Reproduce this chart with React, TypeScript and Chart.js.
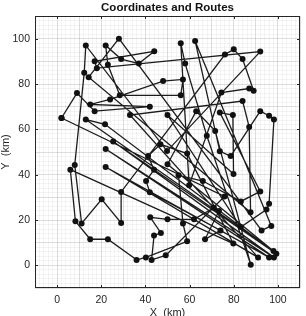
import React, { useEffect, useRef } from "react";
import { Chart, registerables } from "chart.js";

Chart.register(...registerables);

// City coordinates (km), 1-based ids by position
const cityX = [2, 9, 13, 22, 28, 17, 29, 18, 12.3, 14.3, 23, 37, 44, 56, 62.5, 58, 48, 57, 76, 80, 92, 84, 74.4, 87, 89, 84, 56, 28.4, 24, 15, 17, 42, 50, 33, 13, 21.7, 63, 73.7, 79.6, 92, 96, 98.2, 87, 71.6, 67.8, 73.7, 78.6, 79.9, 58.9, 46.8, 49.8, 25.4, 22, 41.2, 50, 8, 6, 22, 43.9, 55, 40.3, 59.8, 66, 42, 29, 75.8, 92, 96, 94.8, 83.2, 71, 73.3, 87.6, 20.2, 42.2, 50, 62, 8.3, 11.1, 29, 57, 97, 83.2, 92.6, 74, 67, 79.8, 58.9, 47, 43.9, 15, 23, 36, 40.2, 42.8, 49.2, 87.7, 91, 96, 98.2, 99.3, 98];
const cityY = [65, 76, 97, 97, 100, 90, 91, 87, 85, 83, 88.5, 89, 94.4, 98, 99, 89, 81.3, 82, 93, 95.3, 94.3, 91, 76.2, 78, 77, 72.5, 75, 75, 73.2, 71, 68, 70, 66.3, 66.3, 64.3, 62.2, 68, 67.4, 66.3, 68, 66, 64.3, 61, 59.3, 57.2, 50.3, 48.2, 40.3, 49.3, 53.4, 50.4, 54.6, 51.3, 48.2, 44.6, 44.3, 42.2, 43.4, 42.2, 39.7, 37.2, 35.3, 37.2, 32.2, 32.4, 30.4, 32.6, 27.2, 24.6, 28.2, 25.4, 24, 23.4, 29.1, 21.2, 20.3, 20.3, 19.4, 18.5, 18.7, 18.5, 17.4, 16.9, 15.4, 15.4, 11.5, 9.6, 10.6, 14.3, 13.2, 11.5, 11.5, 2.4, 3.5, 2.4, 4.4, 0.3, 3.5, 3.5, 3.5, 5.1, 6.3];

// Visiting order of the route (city ids)
const routeOrder = [
  1, 2, 31, 32, 30, 29, 17, 18, 27, 28, 11, 4, 7, 12, 13, 6, 8, 21, 51, 3,
  9, 56, 79, 74, 80, 65, 19, 20, 22, 25, 24, 23, 62, 14, 16, 45, 97, 44, 37, 55,
  102, 35, 36, 101, 52, 100, 53, 99, 58, 98, 34, 26, 43, 73, 10, 5, 84, 82, 15, 46,
  47, 40, 41, 42, 68, 69, 83, 33, 48, 39, 38, 67, 70, 63, 60, 81, 88, 94, 93, 92,
  91, 78, 57, 87, 49, 50, 54, 59, 61, 64, 85, 86, 72, 71, 77, 76, 75, 89, 90, 95,
  96, 66,
];

const tickLabels = [0, 20, 40, 60, 80, 100];
const titleText = "Coordinates and Routes";
const xTitle = "X  (km)";
const yTitle = "Y  (km)";

const FONT = "'Liberation Sans', Arial, Helvetica, sans-serif";

const decorPlugin = {
  id: "decor",
  afterDraw(chart: any) {
    const { ctx, chartArea } = chart;
    const { left, right, top, bottom } = chartArea;
    const xs = chart.scales.x;
    const ys = chart.scales.y;
    ctx.save();
    ctx.strokeStyle = "#262626";
    ctx.lineWidth = 1;
    ctx.strokeRect(left + 0.5, top + 0.5, right - left - 1, bottom - top - 1);
    ctx.beginPath();
    tickLabels.forEach((v) => {
      const px = Math.round(xs.getPixelForValue(v)) + 0.5;
      ctx.moveTo(px, bottom);
      ctx.lineTo(px, bottom - 3);
      ctx.moveTo(px, top);
      ctx.lineTo(px, top + 3);
      const py = Math.round(ys.getPixelForValue(v)) + 0.5;
      ctx.moveTo(left, py);
      ctx.lineTo(left + 3, py);
      ctx.moveTo(right, py);
      ctx.lineTo(right - 3, py);
    });
    ctx.stroke();
    ctx.fillStyle = "#111";
    ctx.textAlign = "center";
    ctx.textBaseline = "middle";
    ctx.font = `bold 11.5px ${FONT}`;
    ctx.fillText(titleText, (left + right) / 2, 8);
    ctx.fillStyle = "#262626";
    ctx.font = `11px ${FONT}`;
    ctx.fillText(xTitle, (left + right) / 2, 313);
    ctx.translate(6, (top + bottom) / 2);
    ctx.rotate(-Math.PI / 2);
    ctx.fillText(yTitle, 0, 0);
    ctx.restore();
  },
};

function gridColor(ctx: any) {
  const v = ctx.tick ? ctx.tick.value : 0;
  if (Math.abs(v % 10) < 1e-6) return "rgba(0,0,0,0.13)";
  return "rgba(0,0,0,0.045)";
}

export default function App() {
  const ref = useRef<HTMLCanvasElement | null>(null);
  useEffect(() => {
    document.body.style.margin = "0";
    if (!ref.current) return;
    const pts = routeOrder.map((id) => ({ x: cityX[id - 1], y: cityY[id - 1] }));
    pts.push({ x: cityX[routeOrder[0] - 1], y: cityY[routeOrder[0] - 1] });
    const tickCb = (val: any) => {
      const v = Number(val);
      return tickLabels.includes(Math.round(v)) && Math.abs(v - Math.round(v)) < 1e-6 ? String(Math.round(v)) : "";
    };
    const mkTicks = (s: any) => {
      const t = [];
      for (let v = -10; v <= 110; v += 2) t.push({ value: v });
      s.ticks = t;
    };
    const chart = new Chart(ref.current, {
      type: "scatter",
      data: {
        datasets: [
          {
            data: pts,
            showLine: true,
            borderColor: "#1c1c1c",
            borderWidth: 1.3,
            pointRadius: 3,
            pointBackgroundColor: "#111",
            pointBorderWidth: 0,
            tension: 0,
          },
        ],
      },
      options: {
        animation: false,
        responsive: false,
        devicePixelRatio: 1,
        layout: { padding: { top: 16, left: 0, right: 0, bottom: 0 } },
        plugins: { legend: { display: false }, tooltip: { enabled: false }, title: { display: false } },
        scales: {
          x: {
            type: "linear",
            min: -10,
            max: 110,
            afterBuildTicks: mkTicks,
            afterFit: (s: any) => {
              s.height = 28;
            },
            grid: { color: gridColor, drawTicks: false },
            border: { display: false },
            ticks: {
              autoSkip: false,
              maxRotation: 0,
              padding: 6,
              color: "#262626",
              font: { size: 10.5, family: FONT },
              callback: tickCb,
            },
          },
          y: {
            type: "linear",
            min: -10,
            max: 110,
            afterBuildTicks: mkTicks,
            afterFit: (s: any) => {
              s.width = 35;
            },
            grid: { color: gridColor, drawTicks: false },
            border: { display: false },
            ticks: {
              autoSkip: false,
              padding: 5,
              color: "#262626",
              font: { size: 10.5, family: FONT },
              callback: tickCb,
            },
          },
        },
      },
      plugins: [decorPlugin],
    });
    return () => chart.destroy();
  }, []);
  return <canvas ref={ref} width={306} height={316} style={{ display: "block", width: 306, height: 316 }} />;
}
